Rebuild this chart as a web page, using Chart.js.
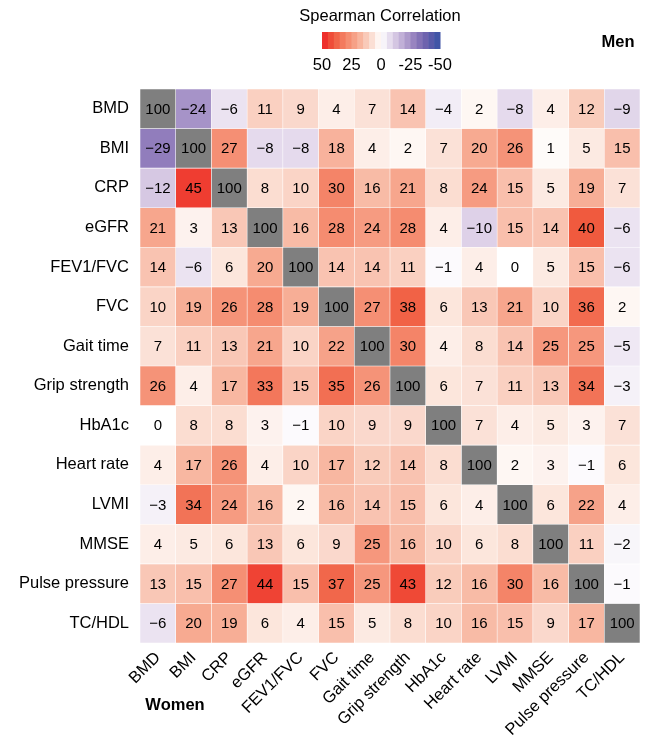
<!DOCTYPE html>
<html>
<head>
<meta charset="utf-8">
<script src="https://cdn.jsdelivr.net/npm/chart.js@4/dist/chart.umd.min.js"></script>
<style>
  html, body { margin: 0; padding: 0; background: #fff; }
</style>
</head>
<body>
<canvas id="heat" width="648" height="741"></canvas>
<script>
// variables (same order on both axes)
var variables = ["BMD", "BMI", "CRP", "eGFR", "FEV1/FVC", "FVC", "Gait time", "Grip strength",
                 "HbA1c", "Heart rate", "LVMI", "MMSE", "Pulse pressure", "TC/HDL"];

// Spearman correlation x 100, one row per variable
var bmd          = [100, -24, -6, 11, 9, 4, 7, 14, -4, 2, -8, 4, 12, -9];
var bmi          = [-29, 100, 27, -8, -8, 18, 4, 2, 7, 20, 26, 1, 5, 15];
var crp          = [-12, 45, 100, 8, 10, 30, 16, 21, 8, 24, 15, 5, 19, 7];
var egfr         = [21, 3, 13, 100, 16, 28, 24, 28, 4, -10, 15, 14, 40, -6];
var fev1fvc      = [14, -6, 6, 20, 100, 14, 14, 11, -1, 4, 0, 5, 15, -6];
var fvc          = [10, 19, 26, 28, 19, 100, 27, 38, 6, 13, 21, 10, 36, 2];
var gaitTime     = [7, 11, 13, 21, 10, 22, 100, 30, 4, 8, 14, 25, 25, -5];
var gripStrength = [26, 4, 17, 33, 15, 35, 26, 100, 6, 7, 11, 13, 34, -3];
var hba1c        = [0, 8, 8, 3, -1, 10, 9, 9, 100, 7, 4, 5, 3, 7];
var heartRate    = [4, 17, 26, 4, 10, 17, 12, 14, 8, 100, 2, 3, -1, 6];
var lvmi         = [-3, 34, 24, 16, 2, 16, 14, 15, 6, 4, 100, 6, 22, 4];
var mmse         = [4, 5, 6, 13, 6, 9, 25, 16, 10, 6, 8, 100, 11, -2];
var pulsePress   = [13, 15, 27, 44, 15, 37, 25, 43, 12, 16, 30, 16, 100, -1];
var tcHdl        = [-6, 20, 19, 6, 4, 15, 5, 8, 10, 16, 15, 9, 17, 100];

var corr = [bmd, bmi, crp, egfr, fev1fvc, fvc, gaitTime, gripStrength,
            hba1c, heartRate, lvmi, mmse, pulsePress, tcHdl];

// legend tick labels
var legendTicks = ["50", "25", "0", "-25", "-50"];

// colour ramp: red for positive, purple/blue for negative
var posStops = [[0, [255, 255, 255]], [5, [252, 234, 226]], [10, [250, 212, 198]], [20, [247, 170, 145]],
                [30, [244, 132, 104]], [40, [240, 90, 62]], [50, [237, 32, 36]]];
var negStops = [[0, [255, 255, 255]], [-10, [222, 209, 232]], [-20, [183, 165, 209]],
                [-30, [141, 121, 186]], [-40, [100, 92, 170]], [-50, [53, 83, 164]]];

function colorFor(v) {
    var stops = v >= 0 ? posStops : negStops;
    var a = Math.min(Math.abs(v), 50);
    for (var k = 1; k < stops.length; k++) {
        var lo = stops[k - 1], hi = stops[k];
        if (a <= Math.abs(hi[0])) {
            var t = (a - Math.abs(lo[0])) / (Math.abs(hi[0]) - Math.abs(lo[0]));
            var c = lo[1].map(function(x, n) { return Math.round(x + (hi[1][n] - x) * t); });
            return "rgb(" + c.join(",") + ")";
        }
    }
    return "rgb(" + stops[stops.length - 1][1].join(",") + ")";
}

var FONT = "'Liberation Sans', Arial, Helvetica, sans-serif";
Chart.defaults.color = "#000";
Chart.defaults.font.family = FONT;

// one floating-bar dataset per row
var datasets = variables.map(function(name, i) {
    return {
        label: name,
        data: variables.map(function() { return [i, i + 1]; }),
        backgroundColor: corr[i].map(function(v, j) { return i === j ? "#7f7f7f" : colorFor(v); }),
        borderColor: "rgba(255,255,255,0.3)",
        borderWidth: 0.6,
        borderSkipped: false,
        barPercentage: 1,
        categoryPercentage: 1,
        grouped: false
    };
});

// numbers inside the cells
var cellText = {
    id: "cellText",
    afterDatasetsDraw: function(chart) {
        var ctx = chart.ctx;
        ctx.save();
        ctx.font = "15px " + FONT;
        ctx.fillStyle = "#000";
        ctx.textAlign = "center";
        ctx.textBaseline = "middle";
        chart.data.datasets.forEach(function(ds, i) {
            chart.getDatasetMeta(i).data.forEach(function(bar, j) {
                var v = corr[i][j];
                var s = v < 0 ? "\u2212" + Math.abs(v) : String(v);
                ctx.fillText(s, bar.x, (bar.y + bar.base) / 2 + 1);
            });
        });
        ctx.restore();
    }
};

// colour bar legend and the Men / Women notes
var extras = {
    id: "extras",
    afterDraw: function(chart) {
        var ctx = chart.ctx;
        ctx.save();
        ctx.fillStyle = "#000";
        ctx.textAlign = "center";
        ctx.textBaseline = "middle";
        ctx.font = "16.5px " + FONT;
        ctx.fillText("Spearman Correlation", 380, 16);

        var x0 = 322, x1 = 440, n = 20, w = (x1 - x0) / n;
        for (var k = 0; k < n; k++) {
            var v = 50 - (k + 0.5) * (100 / n);
            ctx.fillStyle = colorFor(v);
            ctx.fillRect(x0 + k * w, 32, w + 0.5, 17);
        }
        ctx.fillStyle = "#000";
        legendTicks.forEach(function(t, k) {
            ctx.fillText(t, x0 + k * (x1 - x0) / 4, 65);
        });

        ctx.font = "bold 16.5px " + FONT;
        ctx.fillText("Men", 618, 42);
        ctx.fillText("Women", 175, 705);
        ctx.restore();
    }
};

new Chart(document.getElementById("heat"), {
    type: "bar",
    data: { labels: variables, datasets: datasets },
    options: {
        responsive: false,
        devicePixelRatio: 1,
        animation: false,
        events: [],
        layout: { padding: { top: 89, right: 8, left: 0, bottom: 0 } },
        plugins: { legend: { display: false }, tooltip: { enabled: false } },
        scales: {
            x: {
                type: "category",
                grid: { display: false, drawTicks: false },
                border: { display: false },
                ticks: { autoSkip: false, maxRotation: 45, minRotation: 45, padding: 5,
                         font: { size: 16.5 } },
                afterFit: function(scale) { scale.height = 98; }
            },
            y: {
                type: "linear",
                min: 0,
                max: 14,
                reverse: true,
                grid: { display: false, drawTicks: false },
                border: { display: false },
                afterBuildTicks: function(scale) {
                    scale.ticks = variables.map(function(_, i) { return { value: i + 0.5 }; });
                },
                ticks: {
                    autoSkip: false,
                    padding: 11,
                    font: { size: 16.5 },
                    callback: function(v) { return variables[Math.floor(v)]; }
                },
                afterFit: function(scale) { scale.width = 140; }
            }
        }
    },
    plugins: [cellText, extras]
});
</script>
</body>
</html>
